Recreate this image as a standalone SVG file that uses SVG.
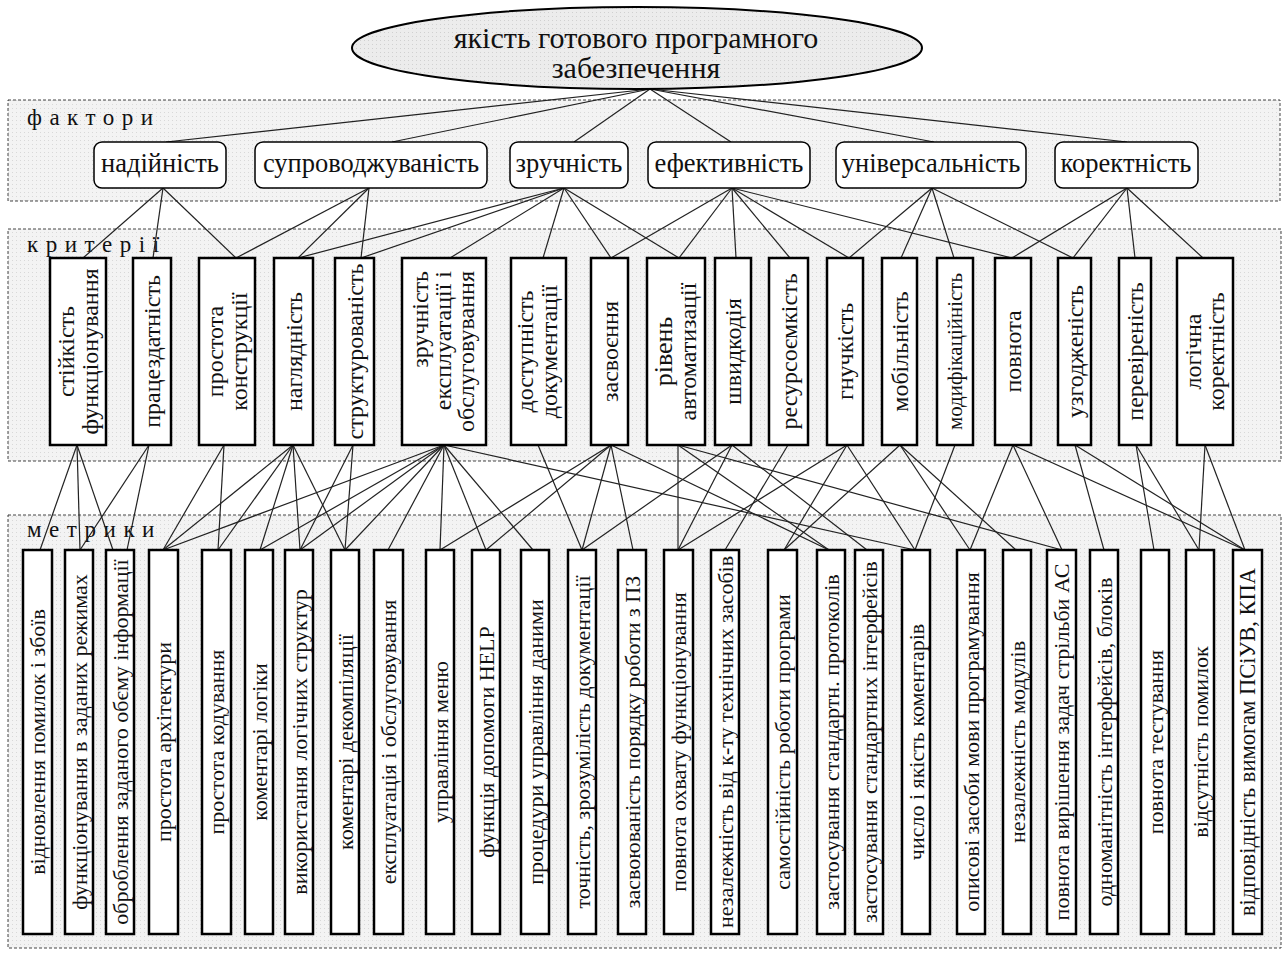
<svg xmlns="http://www.w3.org/2000/svg" width="1284" height="953" viewBox="0 0 1284 953" font-family="'Liberation Serif', 'Times New Roman', serif">
<defs>
<pattern id="dots" width="4" height="4" patternUnits="userSpaceOnUse"><rect width="4" height="4" fill="#f3f3f3"/><rect width="1" height="1" fill="#d8d8d8"/></pattern>
<pattern id="dots2" width="4" height="4" patternUnits="userSpaceOnUse"><rect width="4" height="4" fill="#ececec"/><rect width="1" height="1" fill="#d0d0d0"/></pattern>
<style>
text{font-family:"Liberation Serif","Times New Roman",serif;fill:#111}
.panel{fill:url(#dots);stroke:#444;stroke-width:1;stroke-dasharray:3 2}
.lbl{font-family:"Liberation Serif",serif;font-size:23px;letter-spacing:7.5px}
.fac{fill:#fff;stroke:#000;stroke-width:1.5}
.box{fill:#fff;stroke:#000;stroke-width:2.5}
.et{font-family:"Liberation Serif",serif;font-size:30px;text-anchor:middle;dominant-baseline:central}
.ft{font-family:"Liberation Serif",serif;font-size:26.5px;text-anchor:middle;dominant-baseline:central}
.ct{font-family:"Liberation Serif",serif;font-size:24px;text-anchor:middle;dominant-baseline:central}
.mt{font-family:"Liberation Serif",serif;font-size:22px;text-anchor:middle;dominant-baseline:central}
#connectors line{stroke:#222;stroke-width:1.2}
</style>
</defs>
<rect width="1284" height="953" fill="#fff"/>
<g id="panels">
<rect class="panel" x="8" y="100" width="1272" height="101"/>
<rect class="panel" x="8" y="229" width="1273" height="232"/>
<rect class="panel" x="8" y="515" width="1273" height="433"/>
<text class="lbl" x="27" y="125">фактори</text>
<text class="lbl" x="27" y="252">критерії</text>
<text class="lbl" x="27" y="537">метрики</text>
</g>
<g id="connectors">
<line x1="650" y1="89" x2="166" y2="142"/>
<line x1="650" y1="89" x2="392" y2="142"/>
<line x1="650" y1="89" x2="574" y2="142"/>
<line x1="650" y1="89" x2="731" y2="142"/>
<line x1="650" y1="89" x2="934" y2="142"/>
<line x1="650" y1="89" x2="1127" y2="142"/>
<line x1="163" y1="188" x2="83" y2="258"/>
<line x1="163" y1="188" x2="153" y2="258"/>
<line x1="163" y1="188" x2="236" y2="258"/>
<line x1="369" y1="188" x2="236" y2="258"/>
<line x1="369" y1="188" x2="298" y2="258"/>
<line x1="369" y1="188" x2="361" y2="258"/>
<line x1="564" y1="188" x2="298" y2="258"/>
<line x1="564" y1="188" x2="361" y2="258"/>
<line x1="564" y1="188" x2="450" y2="258"/>
<line x1="564" y1="188" x2="543" y2="258"/>
<line x1="564" y1="188" x2="611" y2="258"/>
<line x1="564" y1="188" x2="679" y2="258"/>
<line x1="732" y1="188" x2="611" y2="258"/>
<line x1="732" y1="188" x2="679" y2="258"/>
<line x1="732" y1="188" x2="736" y2="258"/>
<line x1="732" y1="188" x2="790" y2="258"/>
<line x1="732" y1="188" x2="849" y2="258"/>
<line x1="732" y1="188" x2="1012" y2="258"/>
<line x1="932" y1="188" x2="849" y2="258"/>
<line x1="932" y1="188" x2="901" y2="258"/>
<line x1="932" y1="188" x2="954" y2="258"/>
<line x1="932" y1="188" x2="1073" y2="258"/>
<line x1="1127" y1="188" x2="1012" y2="258"/>
<line x1="1127" y1="188" x2="1073" y2="258"/>
<line x1="1127" y1="188" x2="1135" y2="258"/>
<line x1="1127" y1="188" x2="1203" y2="258"/>
<line x1="77" y1="445" x2="40" y2="550"/>
<line x1="77" y1="445" x2="80" y2="550"/>
<line x1="77" y1="445" x2="113" y2="550"/>
<line x1="149" y1="445" x2="80" y2="550"/>
<line x1="149" y1="445" x2="127" y2="550"/>
<line x1="224" y1="445" x2="163" y2="550"/>
<line x1="224" y1="445" x2="218" y2="550"/>
<line x1="293" y1="445" x2="163" y2="550"/>
<line x1="293" y1="445" x2="218" y2="550"/>
<line x1="293" y1="445" x2="260" y2="550"/>
<line x1="293" y1="445" x2="300" y2="550"/>
<line x1="293" y1="445" x2="345" y2="550"/>
<line x1="353" y1="445" x2="300" y2="550"/>
<line x1="353" y1="445" x2="345" y2="550"/>
<line x1="444" y1="445" x2="163" y2="550"/>
<line x1="444" y1="445" x2="260" y2="550"/>
<line x1="444" y1="445" x2="300" y2="550"/>
<line x1="444" y1="445" x2="345" y2="550"/>
<line x1="444" y1="445" x2="388" y2="550"/>
<line x1="444" y1="445" x2="440" y2="550"/>
<line x1="444" y1="445" x2="486" y2="550"/>
<line x1="444" y1="445" x2="533" y2="550"/>
<line x1="444" y1="445" x2="915" y2="550"/>
<line x1="538" y1="445" x2="582" y2="550"/>
<line x1="611" y1="445" x2="440" y2="550"/>
<line x1="611" y1="445" x2="486" y2="550"/>
<line x1="611" y1="445" x2="582" y2="550"/>
<line x1="611" y1="445" x2="633" y2="550"/>
<line x1="611" y1="445" x2="829" y2="550"/>
<line x1="678" y1="445" x2="678" y2="550"/>
<line x1="678" y1="445" x2="829" y2="550"/>
<line x1="678" y1="445" x2="1062" y2="550"/>
<line x1="732" y1="445" x2="582" y2="550"/>
<line x1="732" y1="445" x2="678" y2="550"/>
<line x1="732" y1="445" x2="867" y2="550"/>
<line x1="788" y1="445" x2="725" y2="550"/>
<line x1="847" y1="445" x2="678" y2="550"/>
<line x1="847" y1="445" x2="784" y2="550"/>
<line x1="847" y1="445" x2="915" y2="550"/>
<line x1="900" y1="445" x2="784" y2="550"/>
<line x1="900" y1="445" x2="970" y2="550"/>
<line x1="900" y1="445" x2="1016" y2="550"/>
<line x1="955" y1="445" x2="915" y2="550"/>
<line x1="1013" y1="445" x2="970" y2="550"/>
<line x1="1013" y1="445" x2="1062" y2="550"/>
<line x1="1013" y1="445" x2="1245" y2="550"/>
<line x1="1075" y1="445" x2="1104" y2="550"/>
<line x1="1075" y1="445" x2="1245" y2="550"/>
<line x1="1136" y1="445" x2="1154" y2="550"/>
<line x1="1136" y1="445" x2="1199" y2="550"/>
<line x1="1205" y1="445" x2="1199" y2="550"/>
<line x1="1205" y1="445" x2="1245" y2="550"/>
</g>
<g id="root">
<ellipse cx="637" cy="48" rx="285" ry="41" fill="url(#dots2)" stroke="#000" stroke-width="2"/>
<text class="et" x="636" y="37">якість готового програмного</text>
<text class="et" x="636" y="67">забезпечення</text>
</g>
<g id="factors">
<g id="f1"><rect class="fac" x="94" y="142" width="132" height="46" rx="8"/><text class="ft" x="160" y="163">надійність</text></g>
<g id="f2"><rect class="fac" x="255" y="142" width="232" height="46" rx="8"/><text class="ft" x="371" y="163">супроводжуваність</text></g>
<g id="f3"><rect class="fac" x="510" y="142" width="118" height="46" rx="8"/><text class="ft" x="569" y="163">зручність</text></g>
<g id="f4"><rect class="fac" x="648" y="142" width="162" height="46" rx="8"/><text class="ft" x="729" y="163">ефективність</text></g>
<g id="f5"><rect class="fac" x="836" y="142" width="190" height="46" rx="8"/><text class="ft" x="931" y="163">універсальність</text></g>
<g id="f6"><rect class="fac" x="1055" y="142" width="143" height="46" rx="8"/><text class="ft" x="1126" y="163">коректність</text></g>
</g>
<g id="criteria">
<g id="c1"><rect class="box" x="50" y="258" width="56" height="187"/><text class="ct" transform="translate(65.5 351.5) rotate(-90)">стійкість</text><text class="ct" transform="translate(90 351.5) rotate(-90)">функціонування</text></g>
<g id="c2"><rect class="box" x="133" y="258" width="38" height="187"/><text class="ct" transform="translate(152 351.5) rotate(-90)">працездатність</text></g>
<g id="c3"><rect class="box" x="199" y="258" width="56" height="187"/><text class="ct" transform="translate(214.5 351.5) rotate(-90)">простота</text><text class="ct" transform="translate(239 351.5) rotate(-90)">конструкції</text></g>
<g id="c4"><rect class="box" x="274" y="258" width="39" height="187"/><text class="ct" transform="translate(293.5 351.5) rotate(-90)">наглядність</text></g>
<g id="c5"><rect class="box" x="335" y="258" width="39" height="187"/><text class="ct" transform="translate(354.5 351.5) rotate(-90)">структурованість</text></g>
<g id="c6"><rect class="box" x="402" y="258" width="84" height="187"/><text class="ct" style="text-anchor:end" transform="translate(420 271) rotate(-90)">зручність</text><text class="ct" style="text-anchor:end" transform="translate(443 271) rotate(-90)">експлуатації і</text><text class="ct" style="text-anchor:end" transform="translate(466 271) rotate(-90)">обслуговування</text></g>
<g id="c7"><rect class="box" x="511" y="258" width="55" height="187"/><text class="ct" transform="translate(525 351.5) rotate(-90)">доступність</text><text class="ct" transform="translate(549 351.5) rotate(-90)">документації</text></g>
<g id="c8"><rect class="box" x="591" y="258" width="37" height="187"/><text class="ct" transform="translate(609.5 351.5) rotate(-90)">засвоєння</text></g>
<g id="c9"><rect class="box" x="647" y="258" width="58" height="187"/><text class="ct" style="font-size:26px" transform="translate(663 351.5) rotate(-90)">рівень</text><text class="ct" transform="translate(688 351.5) rotate(-90)">автоматизації</text></g>
<g id="c10"><rect class="box" x="715" y="258" width="36" height="187"/><text class="ct" transform="translate(733 351.5) rotate(-90)">швидкодія</text></g>
<g id="c11"><rect class="box" x="769" y="258" width="39" height="187"/><text class="ct" transform="translate(788.5 351.5) rotate(-90)">ресурсоємкість</text></g>
<g id="c12"><rect class="box" x="827" y="258" width="36" height="187"/><text class="ct" transform="translate(845 351.5) rotate(-90)">гнучкість</text></g>
<g id="c13"><rect class="box" x="882" y="258" width="35" height="187"/><text class="ct" transform="translate(899.5 351.5) rotate(-90)">мобільність</text></g>
<g id="c14"><rect class="box" x="937" y="258" width="36" height="187"/><text class="ct" style="font-size:21px" transform="translate(955 351.5) rotate(-90)">модифікаційність</text></g>
<g id="c15"><rect class="box" x="995" y="258" width="36" height="187"/><text class="ct" transform="translate(1013 351.5) rotate(-90)">повнота</text></g>
<g id="c16"><rect class="box" x="1058" y="258" width="33" height="187"/><text class="ct" transform="translate(1074.5 351.5) rotate(-90)">узгодженість</text></g>
<g id="c17"><rect class="box" x="1119" y="258" width="32" height="187"/><text class="ct" transform="translate(1135 351.5) rotate(-90)">перевіреність</text></g>
<g id="c18"><rect class="box" x="1177" y="258" width="56" height="187"/><text class="ct" transform="translate(1192.5 351.5) rotate(-90)">логічна</text><text class="ct" transform="translate(1216 351.5) rotate(-90)">коректність</text></g>
</g>
<g id="metrics">
<g id="m1"><rect class="box" x="23" y="550" width="29" height="384"/><text class="mt" transform="translate(37.5 742) rotate(-90)">відновлення помилок і збоїв</text></g>
<g id="m2"><rect class="box" x="65" y="550" width="28" height="384"/><text class="mt" transform="translate(79 742) rotate(-90)">функціонування в заданих режимах</text></g>
<g id="m3"><rect class="box" x="106" y="550" width="28" height="384"/><text class="mt" transform="translate(120 742) rotate(-90)">оброблення заданого обєму інформації</text></g>
<g id="m4"><rect class="box" x="149" y="550" width="29" height="384"/><text class="mt" transform="translate(163.5 742) rotate(-90)">простота архітектури</text></g>
<g id="m5"><rect class="box" x="202" y="550" width="29" height="384"/><text class="mt" transform="translate(216.5 742) rotate(-90)">простота кодування</text></g>
<g id="m6"><rect class="box" x="245" y="550" width="28" height="384"/><text class="mt" transform="translate(259 742) rotate(-90)">коментарі логіки</text></g>
<g id="m7"><rect class="box" x="285" y="550" width="28" height="384"/><text class="mt" transform="translate(299 742) rotate(-90)">використання логічних структур</text></g>
<g id="m8"><rect class="box" x="331" y="550" width="28" height="384"/><text class="mt" transform="translate(345 742) rotate(-90)">коментарі декомпіляції</text></g>
<g id="m9"><rect class="box" x="374" y="550" width="29" height="384"/><text class="mt" transform="translate(388.5 742) rotate(-90)">експлуатація і обслуговування</text></g>
<g id="m10"><rect class="box" x="426" y="550" width="28" height="384"/><text class="mt" transform="translate(440 742) rotate(-90)">управління меню</text></g>
<g id="m11"><rect class="box" x="472" y="550" width="28" height="384"/><text class="mt" transform="translate(486 742) rotate(-90)">функція допомоги HELP</text></g>
<g id="m12"><rect class="box" x="521" y="550" width="28" height="384"/><text class="mt" transform="translate(535 742) rotate(-90)">процедури управління даними</text></g>
<g id="m13"><rect class="box" x="568" y="550" width="28" height="384"/><text class="mt" transform="translate(582 742) rotate(-90)">точність, зрозумілість документації</text></g>
<g id="m14"><rect class="box" x="618" y="550" width="28" height="384"/><text class="mt" transform="translate(632 742) rotate(-90)">засвоюваність порядку роботи з ПЗ</text></g>
<g id="m15"><rect class="box" x="664" y="550" width="29" height="384"/><text class="mt" transform="translate(678.5 742) rotate(-90)">повнота охвату функціонування</text></g>
<g id="m16"><rect class="box" x="711" y="550" width="28" height="384"/><text class="mt" transform="translate(725 742) rotate(-90)">незалежність від к-ту технічних засобів</text></g>
<g id="m17"><rect class="box" x="768" y="550" width="29" height="384"/><text class="mt" transform="translate(782.5 742) rotate(-90)">самостійність роботи програми</text></g>
<g id="m18"><rect class="box" x="817" y="550" width="28" height="384"/><text class="mt" transform="translate(831 742) rotate(-90)">застосування стандартн. протоколів</text></g>
<g id="m19"><rect class="box" x="855" y="550" width="28" height="384"/><text class="mt" transform="translate(869 742) rotate(-90)">застосування стандартних інтерфейсів</text></g>
<g id="m20"><rect class="box" x="902" y="550" width="28" height="384"/><text class="mt" transform="translate(916 742) rotate(-90)">число і якість коментарів</text></g>
<g id="m21"><rect class="box" x="957" y="550" width="28" height="384"/><text class="mt" transform="translate(971 742) rotate(-90)">описові засоби мови програмування</text></g>
<g id="m22"><rect class="box" x="1003" y="550" width="28" height="384"/><text class="mt" transform="translate(1017 742) rotate(-90)">незалежність модулів</text></g>
<g id="m23"><rect class="box" x="1047" y="550" width="29" height="384"/><text class="mt" transform="translate(1061.5 742) rotate(-90)">повнота вирішення задач стрільби АС</text></g>
<g id="m24"><rect class="box" x="1090" y="550" width="28" height="384"/><text class="mt" transform="translate(1104 742) rotate(-90)">одноманітність інтерфейсів, блоків</text></g>
<g id="m25"><rect class="box" x="1141" y="550" width="28" height="384"/><text class="mt" transform="translate(1155 742) rotate(-90)">повнота тестування</text></g>
<g id="m26"><rect class="box" x="1186" y="550" width="28" height="384"/><text class="mt" transform="translate(1200 742) rotate(-90)">відсутність помилок</text></g>
<g id="m27"><rect class="box" x="1233" y="550" width="29" height="384"/><text class="mt" style="font-size:23px" textLength="348" lengthAdjust="spacingAndGlyphs" transform="translate(1247.5 742) rotate(-90)">відповідність вимогам ПСіУВ, КПА</text></g>
</g>
</svg>
